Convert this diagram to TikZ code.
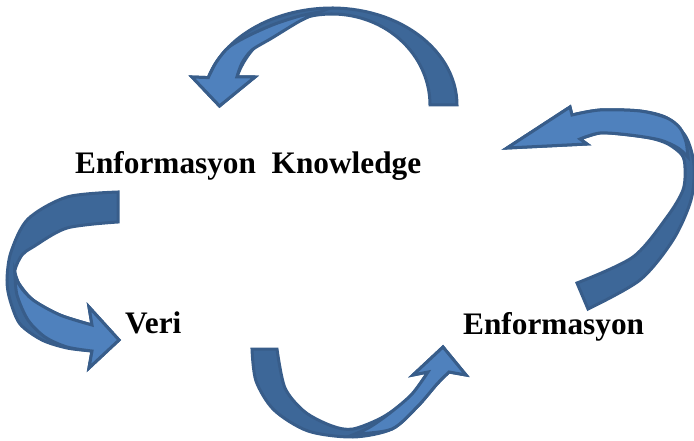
\documentclass[tikz,border=0pt]{standalone}
\usepackage{fontspec}
\setmainfont{Liberation Serif}
\definecolor{lightb}{HTML}{4F81BD}
\definecolor{darkb}{HTML}{3D6798}
\definecolor{edgeb}{HTML}{385D8A}
\tikzset{
  arrowbody/.style={fill=darkb, draw=edgeb, line width=3pt},
  arrowfront/.style={fill=lightb, draw=edgeb, line width=3pt},
  lbl/.style={anchor=base west, inner sep=0pt, font=\fontsize{31.3}{36}\selectfont\bfseries}
}
\begin{document}
\begin{tikzpicture}[x=1pt,y=-1pt]
\useasboundingbox (0,0) rectangle (694,441);
% ---- top arrow ----
\draw[arrowbody] (457,105)
  -- plot[domain=0:90,samples=30,variable=\t] ({332+125*cos(\t)},{105-97*sin(\t)})
  -- plot[domain=90:163.6,samples=30,variable=\t] ({332+129*cos(\t)},{105-97*sin(\t)})
  -- (192,77) -- (219.5,106) -- (255,77)
  -- plot[domain=162:90,samples=30,variable=\t] ({332+100*cos(\t)},{105-91*sin(\t)})
  -- plot[domain=90:0,samples=30,variable=\t] ({332+98*cos(\t)},{105-91*sin(\t)})
  -- cycle;
\draw[arrowfront] (208.3,77.6)
  -- plot[smooth] coordinates {(208.3,77.6) (216.4,62) (229,47) (250,35) (275,24) (300,16) (320,12)}
  -- plot[smooth] coordinates {(320,12) (300,21) (272,38) (252,50) (242,63) (236.9,76.9)}
  -- (255,77) -- (219.5,106) -- (192,77) -- cycle;
% ---- right arrow ----
\draw[arrowbody] (507,148) -- (570,107) -- (572,115)
  -- plot[smooth] coordinates {(572,115) (600,110) (640,111) (667,118) (686,137) (694,165) (691,200) (673,240) (640,280) (588,309)}
  -- (577,283)
  -- plot[smooth] coordinates {(577,283) (633,257) (667,217) (683,190) (685,168) (682,155) (668,144) (650,138) (620,134) (600,133) (580,139)}
  -- (587,144) -- cycle;
\draw[arrowfront] (507,148) -- (570,107) -- (572,115)
  -- plot[smooth] coordinates {(572,115) (600,110) (640,111) (667,118) (680,128) (686,142) (688,157)}
  -- plot[smooth] coordinates {(688,157) (678,148) (660,140) (630,135) (600,133) (580,139)}
  -- (587,144) -- cycle;
% ---- bottom arrow ----
\draw[arrowbody] plot[smooth] coordinates {(252,349) (256,381) (274,410) (308,431) (353,437) (392,429) (418,406) (437,384) (449,372)}
  -- (466,375) -- (443,347) -- (413,375) -- (428,372)
  -- plot[smooth] coordinates {(428,372) (410,397) (383,417) (353,429) (332,426) (305,412) (285,388) (277,349)}
  -- cycle;
\draw[arrowfront] (449,372) -- (466,375) -- (443,347) -- (413,375) -- (428,372)
  -- plot[smooth] coordinates {(428,372) (412,394) (390,413) (370,427) (355,434)}
  -- plot[smooth] coordinates {(355,434) (392,429) (418,406) (437,384) (449,372)}
  -- cycle;
% ---- left arrow ----
\draw[arrowbody] plot[smooth] coordinates {(118,192) (67,197) (28,219) (11,252) (7,280) (10,300) (20,324) (42,340) (67,348) (92,351)}
  -- (89,368) -- (119,340) -- (89,307) -- (92,325)
  -- plot[smooth] coordinates {(92,325) (60,315) (33,300) (18,282) (15,270) (22,255) (33,247) (67,228) (118,222)}
  -- cycle;
\draw[arrowfront] (92,351) -- (89,368) -- (119,340) -- (89,307) -- (92,325)
  -- plot[smooth] coordinates {(92,325) (60,315) (33,300) (20,286) (15,273)}
  -- plot[smooth] coordinates {(15,273) (17,295) (28,320) (45,337) (67,347) (92,351)}
  -- cycle;
% ---- labels ----
\node[lbl] (ek) at (75,173.3) {Enformasyon\ \ Knowledge};
\node[lbl] (veri) at (125,333.3) {Veri};
\node[lbl] (enf) at (463,334) {Enformasyon};
\end{tikzpicture}
\end{document}
